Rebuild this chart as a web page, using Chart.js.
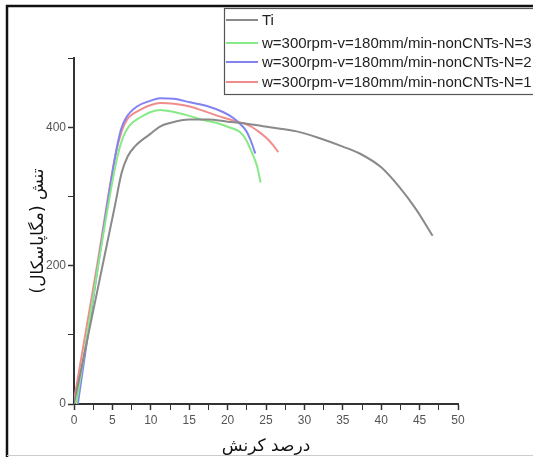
<!DOCTYPE html>
<html>
<head>
<meta charset="utf-8">
<script src="https://cdn.jsdelivr.net/npm/chart.js@4.4.1/dist/chart.umd.min.js"></script>
<style>
  html, body { margin: 0; padding: 0; background: #fff; }
  #wrap { width: 533px; height: 457px; position: relative; }
</style>
</head>
<body>
<div id="wrap"><canvas id="c" width="533" height="457"></canvas></div>
<script>
// series names (legend order)
const seriesNames = [
  'Ti',
  'w=300rpm-v=180mm/min-nonCNTs-N=3',
  'w=300rpm-v=180mm/min-nonCNTs-N=2',
  'w=300rpm-v=180mm/min-nonCNTs-N=1'
];

// strain (%) / stress (MPa)
const tiStrain = [0, 2.6, 5.3, 6.2, 7, 8, 9.9, 11.2, 12.5, 15, 17.5, 20, 22.5, 25.5, 29, 32, 35, 37.2, 40, 42.4, 44.5, 46.7];
const tiStress = [0, 140, 285, 334, 358, 373, 390, 401, 406, 411, 411, 408, 405, 400, 394, 384, 372, 362, 342, 313, 282, 243];

const n3Strain = [0.3, 3, 5.6, 6.4, 7.2, 8.6, 10, 11.2, 13, 15.1, 17, 18.6, 20.2, 21.6, 22.4, 22.9, 23.4, 23.8, 24.3];
const n3Stress = [0, 190, 355, 386, 402, 414, 422, 425, 422, 416, 410, 406, 400, 393, 382, 370, 357, 345, 320];

const n2Strain = [0.5, 3, 5.4, 6.1, 6.8, 8.2, 9.9, 11.2, 13, 15.1, 17.5, 19.4, 20.8, 21.6, 22.4, 22.9, 23.3, 23.6];
const n2Stress = [0, 190, 360, 396, 414, 430, 438, 442, 441, 436, 430, 422, 413, 405, 395, 384, 372, 362];

const n1Strain = [0, 3, 5.4, 6.2, 6.9, 8.6, 10, 11.2, 13, 15.1, 17.5, 19.4, 21, 22.9, 24, 25.1, 26, 26.6];
const n1Stress = [5, 200, 360, 394, 411, 425, 432, 435, 434, 430, 421, 414, 409, 402, 394, 384, 373, 364];

const seriesColors = ['#8a8a8a', '#86ea86', '#8282f2', '#f28c8c'];

const xTitle = 'درصد کرنش';
const yTitle = 'تنش (مگاپاسکال)';

const toPoints = (xs, ys) => xs.map((x, i) => ({ x, y: ys[i] }));
const allSeries = [
  toPoints(tiStrain, tiStress),
  toPoints(n3Strain, n3Stress),
  toPoints(n2Strain, n2Stress),
  toPoints(n1Strain, n1Stress)
];

// frame round the picture + boxed legend in the top right
const framePlugin = {
  id: 'frame',
  afterDraw(chart) {
    const ctx = chart.ctx;
    ctx.save();
    // legend box
    ctx.strokeStyle = '#555';
    ctx.lineWidth = 1.2;
    ctx.strokeRect(224.5, 8.5, 330, 86);
    const rowsY = [20, 43, 62, 82];
    ctx.font = '15px "Liberation Sans", Arial, sans-serif';
    ctx.textBaseline = 'middle';
    ctx.textAlign = 'left';
    seriesNames.forEach((name, i) => {
      ctx.strokeStyle = seriesColors[i];
      ctx.lineWidth = 2;
      ctx.beginPath();
      ctx.moveTo(226, rowsY[i]);
      ctx.lineTo(258, rowsY[i]);
      ctx.stroke();
      ctx.fillStyle = '#222';
      ctx.fillText(name, 262, rowsY[i] + 1);
    });
    // outer frame
    ctx.strokeStyle = '#111';
    ctx.lineWidth = 2.5;
    ctx.beginPath();
    ctx.moveTo(7, 457);
    ctx.lineTo(7, 6);
    ctx.lineTo(533, 6);
    ctx.stroke();
    ctx.strokeStyle = '#ccc';
    ctx.lineWidth = 1;
    ctx.beginPath();
    ctx.moveTo(7, 455.5);
    ctx.lineTo(533, 455.5);
    ctx.stroke();
    ctx.restore();
  }
};

new Chart(document.getElementById('c'), {
  type: 'line',
  data: {
    datasets: allSeries.map((pts, i) => ({
      label: seriesNames[i],
      data: pts,
      borderColor: seriesColors[i],
      borderWidth: 2,
      pointRadius: 0,
      fill: false,
      cubicInterpolationMode: 'monotone'
    }))
  },
  options: {
    responsive: false,
    animation: false,
    layout: { padding: { left: 0, top: 58, right: 75, bottom: 0 } },
    plugins: { legend: { display: false }, tooltip: { enabled: false } },
    scales: {
      x: {
        type: 'linear',
        min: 0,
        max: 50,
        afterFit: (s) => { s.height = 53; },
        border: { color: '#333', width: 2 },
        grid: {
          drawOnChartArea: false,
          tickLength: 6,
          tickColor: '#333',
          tickWidth: (c) => (c.tick && c.tick.value % 5 === 0 ? 1.5 : 1)
        },
        ticks: {
          stepSize: 2.5,
          autoSkip: false,
          maxRotation: 0,
          padding: 3,
          color: '#555',
          font: { family: '"Liberation Sans", Arial, sans-serif', size: 12 },
          callback: (v) => (v % 5 === 0 ? String(v) : '')
        },
        title: {
          display: true,
          text: xTitle,
          color: '#111',
          font: { family: '"DejaVu Sans", sans-serif', size: 17 },
          padding: { top: 0, bottom: 0 }
        }
      },
      y: {
        min: 0,
        max: 500,
        afterFit: (s) => { s.width = 74; },
        border: { color: '#333', width: 2 },
        grid: {
          drawOnChartArea: false,
          tickLength: 6,
          tickColor: '#333',
          tickWidth: (c) => (c.tick && c.tick.value % 200 === 0 ? 1.5 : 1)
        },
        ticks: {
          stepSize: 100,
          autoSkip: false,
          padding: 2,
          color: '#555',
          font: { family: '"Liberation Sans", Arial, sans-serif', size: 12 },
          callback: (v) => (v % 200 === 0 ? String(v) : '')
        },
        title: {
          display: true,
          text: yTitle,
          color: '#111',
          font: { family: '"DejaVu Sans", sans-serif', size: 17 },
          padding: { top: 28, bottom: 0 }
        }
      }
    }
  },
  plugins: [framePlugin]
});
</script>
</body>
</html>
